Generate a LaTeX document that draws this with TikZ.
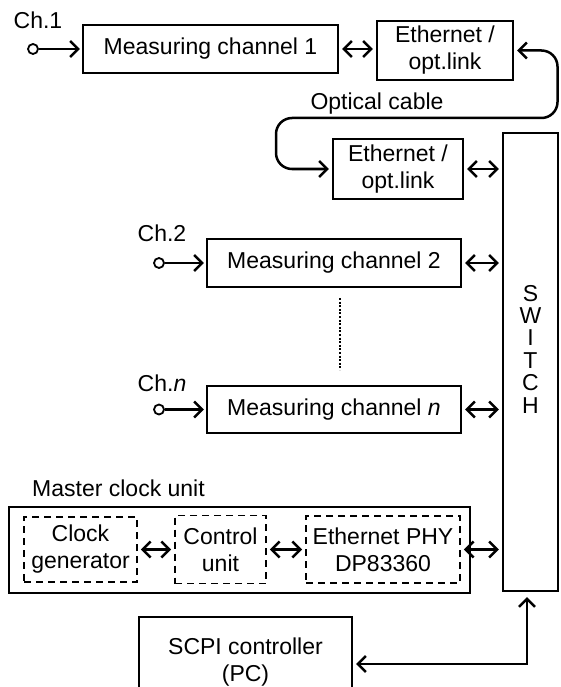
\documentclass[tikz,border=0pt]{standalone}
\usepackage{fontspec}
\setmainfont{Liberation Sans}
\usetikzlibrary{arrows.meta}
\begin{document}
\begin{tikzpicture}[x=1pt,y=-1pt,
  every node/.style={font=\fontsize{23}{27}\selectfont, inner sep=0pt},
  box/.style={draw, line width=2.1pt, align=center},
  dbox/.style={draw, line width=1.8pt, dash pattern=on 7pt off 5pt, align=center},
  tipb/.tip={Straight Barb[length=8pt,width=16pt]},
  arr/.style={line width=2.5pt, -tipb, shorten >=2pt},
  darr/.style={line width=2.5pt, tipb-tipb, shorten <=3pt, shorten >=3pt},
  term/.style={draw, circle, line width=1.8pt, minimum size=10pt, inner sep=0pt}
]
\useasboundingbox (0,0) rectangle (560,687);
\clip (0,0) rectangle (560,687);

% top chain
\node[box, minimum width=255pt, minimum height=48pt] (mc1) at (210.5,49) {Measuring channel 1};
\node[box, minimum width=136pt, minimum height=59pt] (e1) at (445,50.5) {Ethernet /\\opt.link};
\node[box, minimum width=130pt, minimum height=60pt] (e2) at (398,169) {Ethernet /\\opt.link};
\node[box, minimum width=55pt, minimum height=458pt] (sw) at (530.5,362) {};
\node[font=\fontsize{23}{22.4}\selectfont, align=center] (swt) at (530.5,349) {S\\W\\I\\T\\C\\H};

\node[term] (t1) at (33,49) {};
\node (l1) at (38,20) {Ch.1};
\draw[arr] (t1) -- (t1 -| mc1.west);
\draw[darr] (mc1.east) -- (mc1.east -| e1.west);

% optical cable
\coordinate (ca) at (557.5,50.5);
\coordinate (cb) at (557.5,118);
\coordinate (cc) at (276,118);
\coordinate (cd) at (276,169);
\draw[darr, rounded corners=16pt] (e1.east) -- (ca) -- (cb) -- (cc) -- (cd) -- (e2.west);
\node (oc) at (377,104) {Optical cable};
\draw[darr] (e2.east) -- (e2.east -| sw.west);

% channel 2
\node[box, minimum width=254pt, minimum height=48pt] (mc2) at (334,263) {Measuring channel 2};
\node[term] (t2) at (159,263) {};
\node (l2) at (162,233) {Ch.2};
\draw[arr] (t2) -- (t2 -| mc2.west);
\draw[darr] (mc2.east) -- (mc2.east -| sw.west);

% dots
\coordinate (d1) at (340,298);
\coordinate (d2) at (340,370);
\draw[line width=2.2pt, dash pattern=on 2pt off 1.6pt] (d1) -- (d2);

% channel n
\node[box, minimum width=254pt, minimum height=47pt] (mcn) at (334,409.5) {Measuring channel \textit{n}};
\node[term] (tn) at (159,409.5) {};
\node (ln) at (162,383) {Ch.\textit{n}};
\draw[arr] (tn) -- (tn -| mcn.west);
\draw[darr] (mcn.east) -- (mcn.east -| sw.west);

% master clock unit
\node[anchor=west] (mlbl) at (32,488) {Master clock unit};
\node[box, minimum width=461pt, minimum height=86pt] (mcu) at (239.5,550) {};
\node[dbox, minimum width=113pt, minimum height=65pt] (cg) at (80.5,549.5) {Clock\\generator};
\node[dbox, minimum width=91pt, minimum height=68pt] (cu) at (220.5,549.5) {Control\\unit};
\node[dbox, minimum width=154pt, minimum height=67pt] (phy) at (383,549.5) {Ethernet PHY\\DP83360};
\draw[darr] (cg.east) -- (cg.east -| cu.west);
\draw[darr] (cu.east) -- (cu.east -| phy.west);
\draw[darr] (phy.east) -- (phy.east -| sw.west);

% SCPI controller
\node[box, minimum width=213pt, minimum height=90pt] (scpi) at (245.5,662) {SCPI controller\\(PC)};
\coordinate (k) at (527,664);
\draw[darr, shorten >=5pt] (k -| scpi.east) -- (k) -- (sw.south -| k);
\end{tikzpicture}
\end{document}
